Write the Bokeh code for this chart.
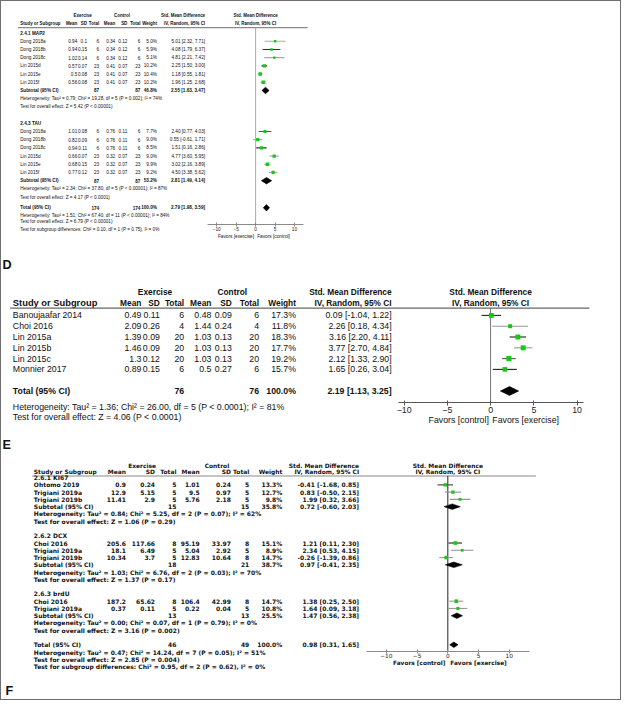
import numpy as np
from bokeh.plotting import figure
from bokeh.models import ColumnDataSource, Range1d, LinearAxis, FixedTicker
from bokeh.layouts import column
from bokeh.embed import file_html
from bokeh.resources import INLINE
from bokeh.core.properties import value

# ======================= DATA =======================
TICKS = [-10, -5, 0, 5, 10]

# ---- top panel: MAP2 / TAU ----
C_groups = ["2.4.1 MAP2", "2.4.3 TAU"]
C_study = ["Dong 2018a", "Dong 2018b", "Dong 2018c", "Lin 2015d", "Lin 2015e", "Lin 2015f",
           "Dong 2018a", "Dong 2018b", "Dong 2018c", "Lin 2015d", "Lin 2015e", "Lin 2015f"]
C_ex_mean = [0.94, 0.94, 1.02, 0.57, 0.5, 0.56, 1.01, 0.82, 0.94, 0.66, 0.68, 0.77]
C_ex_sd = [0.1, 0.15, 0.14, 0.07, 0.08, 0.08, 0.08, 0.09, 0.11, 0.07, 0.15, 0.12]
C_ex_n = [6, 6, 6, 23, 23, 23, 6, 6, 6, 23, 23, 23]
C_ct_mean = [0.34, 0.34, 0.34, 0.41, 0.41, 0.41, 0.76, 0.76, 0.76, 0.32, 0.32, 0.32]
C_ct_sd = [0.12, 0.12, 0.12, 0.07, 0.07, 0.07, 0.11, 0.11, 0.11, 0.07, 0.07, 0.07]
C_ct_n = [6, 6, 6, 23, 23, 23, 6, 6, 6, 23, 23, 23]
C_weight = [5.0, 5.9, 5.1, 10.2, 10.4, 10.2, 7.7, 9.0, 8.5, 9.0, 9.9, 9.2]
C_smd = [5.01, 4.08, 4.81, 2.25, 1.18, 1.96, 2.40, 0.55, 1.51, 4.77, 3.02, 4.50]
C_lo = [2.32, 1.79, 2.21, 1.50, 0.55, 1.25, 0.77, -0.61, 0.16, 3.60, 2.16, 3.38]
C_hi = [7.71, 6.37, 7.42, 3.00, 1.81, 2.68, 4.03, 1.71, 2.86, 5.95, 3.89, 5.62]
C_sub_ex_n = [87, 87]
C_sub_ct_n = [87, 87]
C_sub_weight = [46.8, 53.2]
C_sub_smd = [2.55, 2.81]
C_sub_lo = [1.63, 1.49]
C_sub_hi = [3.47, 4.14]
C_sub_het = ["Heterogeneity: Tau\u00b2 = 0.79; Chi\u00b2 = 19.28, df = 5 (P = 0.002); I\u00b2 = 74%",
             "Heterogeneity: Tau\u00b2 = 2.34; Chi\u00b2 = 37.80, df = 5 (P < 0.00001); I\u00b2 = 87%"]
C_sub_test = ["Test for overall effect: Z = 5.42 (P < 0.00001)",
              "Test for overall effect: Z = 4.17 (P < 0.0001)"]
C_tot = [174, 174, 100.0, 2.79, 1.98, 3.59]
C_foot = ["Heterogeneity: Tau\u00b2 = 1.51; Chi\u00b2 = 67.40, df = 11 (P < 0.00001); I\u00b2 = 84%",
          "Test for overall effect: Z = 6.79 (P < 0.00001)",
          "Test for subgroup differences: Chi\u00b2 = 0.10, df = 1 (P = 0.75), I\u00b2 = 0%"]
C_favors = ["Favors [exercise]", "Favors [control]"]

# ---- panel D ----
D_study = ["Banoujaafar 2014", "Choi 2016", "Lin 2015a", "Lin 2015b", "Lin 2015c", "Monnier 2017"]
D_ex_mean = [0.49, 2.09, 1.39, 1.46, 1.3, 0.89]
D_ex_sd = [0.11, 0.26, 0.09, 0.09, 0.12, 0.15]
D_ex_n = [6, 4, 20, 20, 20, 6]
D_ct_mean = [0.48, 1.44, 1.03, 1.03, 1.03, 0.5]
D_ct_sd = [0.09, 0.24, 0.13, 0.13, 0.13, 0.27]
D_ct_n = [6, 4, 20, 20, 20, 6]
D_weight = [17.3, 11.8, 18.3, 17.7, 19.2, 15.7]
D_smd = [0.09, 2.26, 3.16, 3.77, 2.12, 1.65]
D_lo = [-1.04, 0.18, 2.20, 2.70, 1.33, 0.26]
D_hi = [1.22, 4.34, 4.11, 4.84, 2.90, 3.04]
D_tot = [76, 76, 100.0, 2.19, 1.13, 3.25]
D_foot = ["Heterogeneity: Tau\u00b2 = 1.36; Chi\u00b2 = 26.00, df = 5 (P < 0.0001); I\u00b2 = 81%",
          "Test for overall effect: Z = 4.06 (P < 0.0001)"]
D_favors = ["Favors [control]", "Favors [exercise]"]

# ---- panel E/F (bottom) ----
F_groups = ["2.6.1 KI67", "2.6.2 DCX", "2.6.3 brdU"]
F_study = ["Ohtomo 2019", "Trigiani 2019a", "Trigiani 2019b", "Choi 2016", "Trigiani 2019a",
           "Trigiani 2019b", "Choi 2016", "Trigiani 2019a"]
F_ex_mean = [0.9, 12.9, 11.41, 205.6, 18.1, 10.34, 187.2, 0.37]
F_ex_sd = [0.24, 5.15, 2.9, 117.66, 6.49, 3.7, 65.62, 0.11]
F_ex_n = [5, 5, 5, 8, 5, 5, 8, 5]
F_ct_mean = [1.01, 9.5, 5.76, 95.19, 5.04, 12.83, 106.4, 0.22]
F_ct_sd = [0.24, 0.97, 2.18, 33.97, 2.92, 10.64, 42.99, 0.04]
F_ct_n = [5, 5, 5, 8, 5, 8, 8, 5]
F_weight = [13.3, 12.7, 9.8, 15.1, 8.9, 14.7, 14.7, 10.8]
F_smd = [-0.41, 0.83, 1.99, 1.21, 2.34, -0.26, 1.38, 1.64]
F_lo = [-1.68, -0.50, 0.32, 0.11, 0.53, -1.39, 0.25, 0.09]
F_hi = [0.85, 2.15, 3.66, 2.30, 4.15, 0.86, 2.50, 3.18]
F_sub_ex_n = [15, 18, 13]
F_sub_ct_n = [15, 21, 13]
F_sub_weight = [35.8, 38.7, 25.5]
F_sub_smd = [0.72, 0.97, 1.47]
F_sub_lo = [-0.60, -0.41, 0.56]
F_sub_hi = [2.03, 2.35, 2.38]
F_sub_het = ["Heterogeneity: Tau\u00b2 = 0.84; Chi\u00b2 = 5.25, df = 2 (P = 0.07); I\u00b2 = 62%",
             "Heterogeneity: Tau\u00b2 = 1.03; Chi\u00b2 = 6.76, df = 2 (P = 0.03); I\u00b2 = 70%",
             "Heterogeneity: Tau\u00b2 = 0.00; Chi\u00b2 = 0.07, df = 1 (P = 0.79); I\u00b2 = 0%"]
F_sub_test = ["Test for overall effect: Z = 1.06 (P = 0.29)",
              "Test for overall effect: Z = 1.37 (P = 0.17)",
              "Test for overall effect: Z = 3.16 (P = 0.002)"]
F_tot = [46, 49, 100.0, 0.98, 0.31, 1.65]
F_foot = ["Heterogeneity: Tau\u00b2 = 0.47; Chi\u00b2 = 14.24, df = 7 (P = 0.05); I\u00b2 = 51%",
          "Test for overall effect: Z = 2.85 (P = 0.004)",
          "Test for subgroup differences: Chi\u00b2 = 0.95, df = 2 (P = 0.62), I\u00b2 = 0%"]
F_favors = ["Favors [control]", "Favors [exercise]"]

# ======================= STYLE / LAYOUT =======================
SX = 619 / 637.0
SY = 698 / 716.0
INK = "#111111"
GREEN = "#14c814"
LETTER_FONT = "Liberation Sans"


def fpx(s):
    return f"{s * SX:.2f}px"


def num(v):
    return f"{v:g}"


def ci(m, l, h):
    return f"{m:.2f} [{l:.2f}, {h:.2f}]"


def put_text(p, xs, ys, txt, align, font, size, bold, color=INK, rng="default"):
    src = ColumnDataSource(dict(x=list(xs), y=list(ys), t=list(txt)))
    p.text(x="x", y="y", text="t", source=src, text_align=align, text_baseline="middle",
           text_font=value(font), text_font_size=value(fpx(size)),
           text_font_style="bold" if bold else "normal", text_color=color, x_range_name=rng)


def build(d, L):
    top, bottom, ay = L["top"], L["bottom"], L["axis_y"]
    h = L["height"]
    x0, k = L["x0"], L["k"]
    p = figure(width=619, height=h, x_range=Range1d(0, 637), y_range=Range1d(bottom, top),
               toolbar_location=None, output_backend="svg",
               x_axis_location=None, y_axis_location=None,
               min_border_left=0, min_border_right=0, min_border_top=0, min_border_bottom=0)
    p.extra_x_ranges = {"fx": Range1d((0 - x0) / k, (637 - x0) / k)}
    p.outline_line_color = None
    p.grid.visible = False
    p.background_fill_color = "white"
    p.border_fill_color = "white"

    f, s, ball = L["font"], L["size"], L["bold_all"]
    hs = L["hsize"]
    c = L["cols"]
    sx = L["study_x"]

    def yrow(i):
        return list(L["y0"] + L["step"] * np.asarray(i, dtype=float))

    # ---- header ----
    put_text(p, [L["ex_c"], L["ct_c"]], [L["h1"]] * 2, ["Exercise", "Control"], "center", f, hs, True)
    put_text(p, [c[7], c[7]], [L["h1"], L["h2"]], ["Std. Mean Difference", "IV, Random, 95% CI"],
             "right", f, hs, True)
    put_text(p, [x0, x0], [L["h1"], L["h2"]], ["Std. Mean Difference", "IV, Random, 95% CI"],
             "center", f, hs, True)
    put_text(p, [sx], [L["h2"]], ["Study or Subgroup"], "left", f, L["study_hsize"], True)
    put_text(p, c[:7], [L["h2"]] * 7, ["Mean", "SD", "Total", "Mean", "SD", "Total", "Weight"],
             "right", f, hs, True)
    p.segment(x0=[L["rule"][0]], x1=[L["rule"][1]], y0=[L["h_rule"]], y1=[L["h_rule"]],
              line_color=L["rule_color"], line_width=1.2)
    p.segment(x0=[0], x1=[0], y0=[L["h_rule"]], y1=[ay], x_range_name="fx",
              line_color=L["zero_color"], line_width=1)

    # ---- study rows ----
    ys = yrow(L["study_lines"])
    n = len(d["study"])
    put_text(p, [sx] * n, ys, d["study"], "left", f, s, ball)
    colvals = [[num(v) for v in d["ex_mean"]], [num(v) for v in d["ex_sd"]], [str(v) for v in d["ex_n"]],
               [num(v) for v in d["ct_mean"]], [num(v) for v in d["ct_sd"]], [str(v) for v in d["ct_n"]],
               [f"{w:.1f}%" for w in d["weight"]],
               [ci(m, l, hh) for m, l, hh in zip(d["smd"], d["lo"], d["hi"])]]
    for j, vals in enumerate(colvals):
        put_text(p, [c[j]] * n, ys, vals, "right", f, s, ball)

    src = ColumnDataSource(dict(y=ys, smd=d["smd"], lo=d["lo"], hi=d["hi"], col=L["ci_colors"],
                                sz=[L["sq"] * np.sqrt(w) * SX for w in d["weight"]]))
    p.segment(x0="lo", x1="hi", y0="y", y1="y", source=src, x_range_name="fx",
              line_color="col", line_width=1.1)
    p.scatter(x="smd", y="y", size="sz", marker="square", source=src, x_range_name="fx",
              fill_color=GREEN, line_color=None)

    dm_x, dm_y = [], []
    hd = L["dia"]
    # ---- subgroups ----
    if d.get("groups"):
        gy = yrow(L["group_lines"])
        put_text(p, [sx] * len(gy), gy, d["groups"], "left", f, s, True)
        sy = yrow(L["sub_lines"])
        m = len(sy)
        put_text(p, [sx] * m, sy, ["Subtotal (95% CI)"] * m, "left", f, s, True)
        put_text(p, [c[2]] * m, sy, [str(v) for v in d["sub_ex_n"]], "right", f, s, True)
        put_text(p, [c[5]] * m, sy, [str(v) for v in d["sub_ct_n"]], "right", f, s, True)
        put_text(p, [c[6]] * m, sy, [f"{w:.1f}%" for w in d["sub_weight"]], "right", f, s, True)
        put_text(p, [c[7]] * m, sy, [ci(a, b, e) for a, b, e in zip(d["sub_smd"], d["sub_lo"], d["sub_hi"])],
                 "right", f, s, True)
        put_text(p, [sx] * m, yrow(L["het_lines"]), d["sub_het"], "left", f, s, ball)
        put_text(p, [sx] * m, yrow(L["test_lines"]), d["sub_test"], "left", f, s, ball)
        for yy, a, b, e in zip(sy, d["sub_smd"], d["sub_lo"], d["sub_hi"]):
            dm_x.append([b, a, e, a])
            dm_y.append([yy, yy - hd, yy, yy + hd])

    # ---- total ----
    ty = yrow([L["total_line"]])
    t = d["tot"]
    put_text(p, [sx], ty, ["Total (95% CI)"], "left", f, s, True)
    put_text(p, [c[2], c[5], c[6], c[7]], ty * 4,
             [str(t[0]), str(t[1]), f"{t[2]:.1f}%", ci(t[3], t[4], t[5])], "right", f, s, True)
    dm_x.append([t[4], t[3], t[5], t[3]])
    dm_y.append([ty[0], ty[0] - hd, ty[0], ty[0] + hd])
    p.patches(xs=dm_x, ys=dm_y, x_range_name="fx", fill_color="black", line_color="black",
              line_width=0.6)

    fy = yrow(L["foot_lines"])
    put_text(p, [sx] * len(fy), fy, d["foot"], "left", f, s, ball)

    # ---- axis (drawn inside the frame at the axis row) ----
    ax = LinearAxis(x_range_name="fx", ticker=FixedTicker(ticks=TICKS),
                    bounds=(-L["bound"], L["bound"]), fixed_location=ay,
                    axis_line_color=L["axis_color"], axis_line_width=1.2,
                    major_tick_line_color=L["axis_color"], major_tick_line_width=1,
                    major_tick_in=L["tick_in"], major_tick_out=L["tick_out"],
                    minor_tick_line_color=None, major_label_standoff=L["standoff"],
                    major_label_text_font=f, major_label_text_font_size=fpx(L["tick_size"]),
                    major_label_text_color="#222222")
    p.add_layout(ax, "below")
    g = L["fav_gap"]
    put_text(p, [-g], [L["fav_y"]], [d["favors"][0]], "right", f, L["tick_size"], ball, rng="fx")
    put_text(p, [g], [L["fav_y"]], [d["favors"][1]], "left", f, L["tick_size"], ball, rng="fx")

    for (lx, ly, lt) in L.get("letters", []):
        put_text(p, [lx], [ly], [lt], "left", LETTER_FONT, 13, True)
    return p


C = dict(study=C_study, ex_mean=C_ex_mean, ex_sd=C_ex_sd, ex_n=C_ex_n, ct_mean=C_ct_mean, ct_sd=C_ct_sd,
         ct_n=C_ct_n, weight=C_weight, smd=C_smd, lo=C_lo, hi=C_hi, groups=C_groups,
         sub_ex_n=C_sub_ex_n, sub_ct_n=C_sub_ct_n, sub_weight=C_sub_weight, sub_smd=C_sub_smd,
         sub_lo=C_sub_lo, sub_hi=C_sub_hi, sub_het=C_sub_het, sub_test=C_sub_test,
         tot=C_tot, foot=C_foot, favors=C_favors)
D = dict(study=D_study, ex_mean=D_ex_mean, ex_sd=D_ex_sd, ex_n=D_ex_n, ct_mean=D_ct_mean, ct_sd=D_ct_sd,
         ct_n=D_ct_n, weight=D_weight, smd=D_smd, lo=D_lo, hi=D_hi, groups=None,
         tot=D_tot, foot=D_foot, favors=D_favors)
F = dict(study=F_study, ex_mean=F_ex_mean, ex_sd=F_ex_sd, ex_n=F_ex_n, ct_mean=F_ct_mean, ct_sd=F_ct_sd,
         ct_n=F_ct_n, weight=F_weight, smd=F_smd, lo=F_lo, hi=F_hi, groups=F_groups,
         sub_ex_n=F_sub_ex_n, sub_ct_n=F_sub_ct_n, sub_weight=F_sub_weight, sub_smd=F_sub_smd,
         sub_lo=F_sub_lo, sub_hi=F_sub_hi, sub_het=F_sub_het, sub_test=F_sub_test,
         tot=F_tot, foot=F_foot, favors=F_favors)

LC = dict(top=0, bottom=255, height=249, axis_y=228.3, x0=261.5, k=4.0, bound=12.3,
          font="Liberation Sans", size=4.8, hsize=4.6, study_hsize=4.6, bold_all=False,
          study_x=19.3, cols=[78, 88, 100.5, 117, 129.5, 143, 160, 209.5],
          ex_c=83.5, ct_c=124, h1=14.3, h2=22.7, h_rule=26.7, rule=(17, 315), rule_color="#8a8a8a",
          zero_color="#aaaaaa", axis_color="#8a8a8a",
          y0=32.3, step=8.4, group_lines=[0, 11],
          study_lines=[1, 2, 3, 4, 5, 6, 12, 13, 14, 15, 16, 17],
          sub_lines=[7, 18], het_lines=[8, 19], test_lines=[9, 20], total_line=21.3,
          foot_lines=[22.2, 23.0, 23.9],
          ci_colors=["#aaaaaa", "#333333", "#aaaaaa", "#333333", "#888888", "#aaaaaa",
                     "#555555", "#aaaaaa", "#333333", "#aaaaaa", "#aaaaaa", "#aaaaaa"],
          sq=1.1, dia=3.3, tick_in=2, tick_out=2, standoff=1, tick_size=4.9,
          fav_y=240.7, fav_gap=0.4, letters=[])

LD = dict(top=255, bottom=440, height=180, axis_y=411.7, x0=503.3, k=8.9, bound=10.7,
          font="Liberation Sans", size=9.0, hsize=8.6, study_hsize=9.6, bold_all=False,
          study_x=11.7, cols=[144, 163, 188, 216, 237, 265, 303, 401.5],
          ex_c=158, ct_c=237.5, h1=297.7, h2=309.3, h_rule=314.3, rule=(9, 605), rule_color="#666666",
          zero_color="#777777", axis_color="#555555",
          y0=321.7, step=11.1, study_lines=[0, 1, 2, 3, 4, 5], total_line=7, foot_lines=[8.5, 9.37],
          ci_colors=["#222222", "#999999", "#222222", "#999999", "#555555", "#222222"],
          sq=1.2, dia=4.5, tick_in=2, tick_out=3, standoff=1, tick_size=9.0,
          fav_y=429, fav_gap=0.2, letters=[(1, 270, "D")])

LF = dict(top=440, bottom=716, height=269, axis_y=666.7, x0=459.3, k=6.33, bound=13.3,
          font="DejaVu Sans", size=6.2, hsize=6.1, study_hsize=6.1, bold_all=True,
          study_x=33.3, cols=[128, 158, 180, 204, 236, 255, 289, 368],
          ex_c=144.7, ct_c=221.7, h1=475.7, h2=482.3, h_rule=486.7, rule=(31.7, 550),
          rule_color="#8a8a8a", zero_color="#222222", axis_color="#8a8a8a",
          y0=488.3, step=7.46, group_lines=[0, 8, 16],
          study_lines=[1, 2, 3, 9, 10, 11, 17, 18], sub_lines=[4, 12, 19],
          het_lines=[5, 13, 20], test_lines=[6, 14, 21], total_line=23, foot_lines=[24, 25, 26],
          ci_colors=["#555555", "#999999", "#999999", "#222222", "#999999", "#999999",
                     "#999999", "#999999"],
          sq=0.95, dia=2.8, tick_in=2, tick_out=2, standoff=0, tick_size=6.0,
          fav_y=678.3, fav_gap=0.4, letters=[(1, 454.7, "E"), (4, 707, "F")])

p1 = build(C, LC)
p2 = build(D, LD)
p3 = build(F, LF)

layout = column(p1, p2, p3, spacing=0, styles={"border": "1px solid #6e6e6e"})

open("out.html", "w").write(file_html(layout, INLINE))
